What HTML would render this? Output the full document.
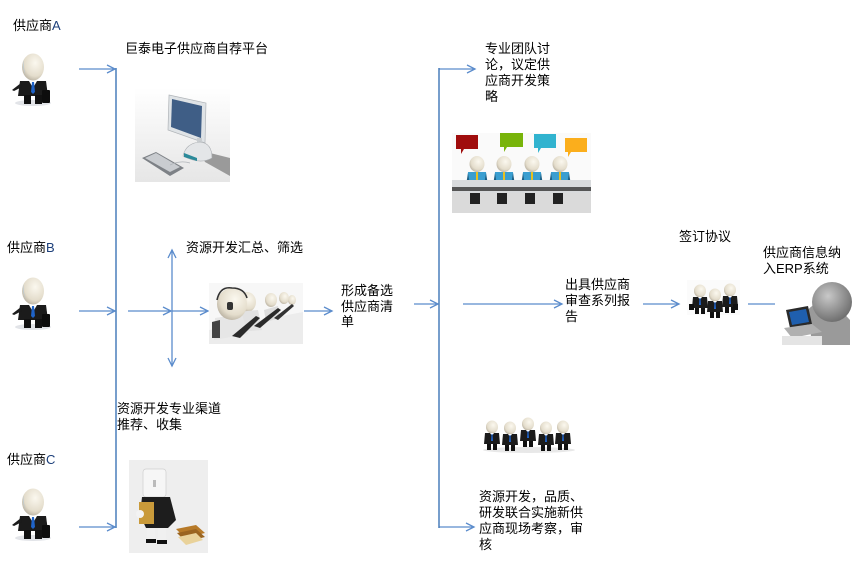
<!DOCTYPE html>
<html><head><meta charset="utf-8">
<style>
html,body{margin:0;padding:0;background:#fff;}
#w{position:relative;width:852px;height:588px;overflow:hidden;background:#fff;}
svg{position:absolute;left:0;top:0;}
.t{position:absolute;font-family:"Liberation Sans","Noto Sans CJK SC","WenQuanYi Zen Hei",sans-serif;font-size:13px;line-height:16px;color:#000;white-space:nowrap;}
.l{color:#1c3f7a;}
</style></head><body><div id="w">
<svg width="852" height="588" viewBox="0 0 852 588" xmlns="http://www.w3.org/2000/svg">
<defs>
<marker id="ah" markerUnits="userSpaceOnUse" markerWidth="12" markerHeight="12" refX="9" refY="5" orient="auto">
<path d="M1,1 L9,5 L1,9" fill="none" stroke="#5b8ccc" stroke-width="1.3"/>
</marker>
<radialGradient id="hd" cx="0.6" cy="0.35" r="0.7">
<stop offset="0" stop-color="#fbf8ef"/><stop offset="0.7" stop-color="#e4ddcc"/><stop offset="1" stop-color="#b8b0a0"/>
</radialGradient>
<radialGradient id="gh" cx="0.4" cy="0.35" r="0.7">
<stop offset="0" stop-color="#c8c8c8"/><stop offset="1" stop-color="#6a6a6a"/>
</radialGradient>
<linearGradient id="bgg" x1="0" y1="0" x2="0" y2="1">
<stop offset="0" stop-color="#ffffff"/><stop offset="1" stop-color="#e6e6e6"/>
</linearGradient>
<g id="sup">
<rect x="0" y="0" width="41" height="57" fill="#fff"/>
<ellipse cx="22" cy="53" rx="18" ry="3" fill="#e2e4e8"/>
<ellipse cx="22" cy="17" rx="11" ry="13.5" fill="url(#hd)"/>
<path d="M13,10 Q11,20 16,28 Q12,22 13,10Z" fill="#9cc6ee" opacity="0.8"/>
<path d="M9,31 L35,31 L37,46 L7,46Z" fill="#1b1b1b"/>
<path d="M18,31 L26,31 L22,38Z" fill="#fff"/>
<path d="M21,32 L23,32 L24,42 L22,44 L20,42Z" fill="#1f63c8"/>
<path d="M10,33 L1,40 L3,41 L11,37Z" fill="#1b1b1b"/>
<rect x="13" y="45" width="7" height="9" fill="#111"/>
<rect x="24" y="45" width="7" height="9" fill="#111"/>
<rect x="31" y="40" width="8" height="13" rx="1" fill="#0d0d0d"/>
</g>
<g id="biz">
<ellipse cx="8" cy="7" rx="6" ry="6.5" fill="url(#hd)"/>
<path d="M1,13 L15,13 L16,24 L0,24Z" fill="#1b1b1b"/>
<path d="M6,13 L10,13 L8,16Z" fill="#fff"/>
<path d="M7.5,14 L8.5,14 L9,21 L7,21Z" fill="#1f63c8"/>
<rect x="3" y="24" width="4" height="6" fill="#111"/>
<rect x="9" y="24" width="4" height="6" fill="#111"/>
</g>
<g id="mt">
<ellipse cx="8" cy="7" rx="7.5" ry="8" fill="url(#hd)"/>
<path d="M-1,15 L17,15 L18,28 L-2,28Z" fill="#3a9ed0"/>
<path d="M7,15 L9,15 L9,28 L7,28Z" fill="#e8c020"/>
<path d="M-1,16 L-3,28 L1,28Z" fill="#1d5f84"/>
<path d="M17,16 L19,28 L15,28Z" fill="#1d5f84"/>
</g>
</defs>

<!-- connectors -->
<g stroke="#5b8ccc" stroke-width="1.3" fill="none">
<line x1="79" y1="69" x2="115" y2="69" marker-end="url(#ah)"/>
<line x1="79" y1="311" x2="115" y2="311" marker-end="url(#ah)"/>
<line x1="79" y1="527" x2="115" y2="527" marker-end="url(#ah)"/>
<line x1="128" y1="311" x2="171" y2="311" marker-end="url(#ah)"/>
<line x1="172" y1="311" x2="208" y2="311" marker-end="url(#ah)"/>
<line x1="172" y1="311" x2="172" y2="250" marker-end="url(#ah)"/>
<line x1="172" y1="311" x2="172" y2="366" marker-end="url(#ah)"/>
<line x1="304" y1="311" x2="332" y2="311" marker-end="url(#ah)"/>
<line x1="414" y1="304" x2="438" y2="304" marker-end="url(#ah)"/>
<line x1="439" y1="69" x2="475" y2="69" marker-end="url(#ah)"/>
<line x1="439" y1="527" x2="474" y2="527" marker-end="url(#ah)"/>
<line x1="463" y1="304" x2="562" y2="304" marker-end="url(#ah)"/>
<line x1="643" y1="304" x2="679" y2="304" marker-end="url(#ah)"/>
<line x1="748" y1="304" x2="775" y2="304"/>
</g>
<g stroke="#4a7ebb" stroke-width="1.5">
<line x1="116" y1="68" x2="116" y2="528"/>
<line x1="439" y1="68" x2="439" y2="528"/>
</g>

<!-- suppliers -->
<use href="#sup" x="11" y="50"/>
<use href="#sup" x="11" y="274"/>
<use href="#sup" x="11" y="485"/>

<!-- computer -->
<rect x="135" y="88" width="95" height="94" fill="url(#bgg)"/>
<path d="M198,150 L230,158 L230,176 L205,162Z" fill="#9a9a9a"/>
<path d="M169,95 L206,103 L205,143 L168,130Z" fill="#dfe3e6" stroke="#b0b4b8" stroke-width="0.7"/>
<path d="M172,99 L202,106 L201,138 L171,127Z" fill="#3f5e86"/>
<rect x="197" y="138" width="5" height="10" fill="#c9cdd0"/>
<path d="M183,156 Q186,143 200,142 Q212,143 212,158 Q200,165 183,156Z" fill="#e4e6e8" stroke="#a8acb0" stroke-width="0.6"/>
<path d="M184,153 L197,158 L197,161 L184,157Z" fill="#2b8a9a"/>
<path d="M142,158 L156,152 L184,168 L170,176Z" fill="#7d8186"/>
<path d="M145,158 L156,153 L180,167 L170,172Z" fill="#c9ccd0"/>
<path d="M170,165 Q180,160 190,163" stroke="#b0b4b8" fill="none" stroke-width="0.8"/>

<!-- operators -->
<rect x="209" y="283" width="94" height="61" fill="#f7f7f7"/>
<path d="M209,330 L303,312 L303,344 L209,344Z" fill="#ececec"/>
<ellipse cx="292" cy="300" rx="4" ry="5" fill="url(#hd)"/>
<ellipse cx="284" cy="298" rx="5" ry="6" fill="url(#hd)"/>
<ellipse cx="271" cy="300" rx="6" ry="7" fill="url(#hd)"/>
<path d="M264,310 L278,306 L280,318 L266,322Z" fill="#ddd"/>
<ellipse cx="247" cy="302" rx="9" ry="10" fill="url(#hd)"/>
<path d="M237,312 L258,310 L262,330 L240,332Z" fill="#e2e2e2"/>
<path d="M215,318 L242,314 L248,334 L214,340Z" fill="#e6e6e6"/>
<ellipse cx="232" cy="304" rx="15" ry="16" fill="url(#hd)"/>
<path d="M217,300 Q220,286 232,288 Q244,288 247,298" stroke="#333" stroke-width="1.6" fill="none"/>
<rect x="227" y="302" width="6" height="8" rx="2" fill="#333"/>
<path d="M232,336 L256,316 L260,318 L240,338Z" fill="#2a2a2a"/>
<path d="M254,326 L278,308 L281,310 L260,328Z" fill="#2a2a2a"/>
<path d="M274,318 L292,304 L294,306 L278,320Z" fill="#333"/>
<path d="M212,322 L220,320 L220,338 L212,338Z" fill="#444"/>

<!-- book character -->
<rect x="129" y="460" width="79" height="93" fill="#eeeeee"/>
<rect x="143" y="469" width="23" height="28" rx="3" fill="#f6f6f6" stroke="#cfcfcf" stroke-width="0.7"/>
<rect x="153" y="480" width="3" height="7" fill="#bbb"/>
<path d="M142,497 L170,497 L176,520 L168,528 L146,528 L140,515Z" fill="#1d1d1d"/>
<rect x="139" y="502" width="15" height="22" fill="#c99a3a"/>
<ellipse cx="140" cy="514" rx="4" ry="4" fill="#f3f3f3"/>
<rect x="147" y="528" width="8" height="12" fill="#f0f0f0"/>
<rect x="158" y="528" width="8" height="12" fill="#f0f0f0"/>
<rect x="146" y="539" width="10" height="4" fill="#111"/>
<rect x="157" y="540" width="10" height="4" fill="#111"/>
<path d="M176,529 L196,525 L205,533 L185,538Z" fill="#b77a28"/>
<path d="M177,533 L196,529 L205,537 L186,542Z" fill="#9a6420"/>
<path d="M178,537 L196,533 L203,540 L186,545Z" fill="#e9d29a"/>

<!-- meeting -->
<rect x="452" y="133" width="139" height="80" fill="#fafafa"/>
<path d="M456,135 h22 v14 h-14 l-3,5 v-5 h-5z" fill="#a00d0d"/>
<path d="M500,133 h23 v14 h-16 l-3,5 v-5 h-4z" fill="#78b40a"/>
<path d="M534,134 h22 v14 h-15 l-3,5 v-5 h-4z" fill="#31b3cf"/>
<path d="M565,138 h22 v14 h-16 l-3,5 v-5 h-3z" fill="#fbae1c"/>
<use href="#mt" x="469" y="157"/>
<use href="#mt" x="496" y="157"/>
<use href="#mt" x="524" y="157"/>
<use href="#mt" x="552" y="157"/>
<path d="M452,180 L591,180 L591,193 L452,193Z" fill="#d8dadc"/>
<rect x="452" y="187" width="139" height="4" fill="#555"/>
<rect x="452" y="193" width="139" height="20" fill="#dadada"/>
<g fill="#222">
<rect x="470" y="193" width="10" height="11"/><rect x="497" y="193" width="10" height="11"/>
<rect x="525" y="193" width="10" height="11"/><rect x="553" y="193" width="10" height="11"/>
</g>

<!-- handshake -->
<rect x="687" y="280" width="53" height="35" fill="#fbfbfb"/>
<use href="#biz" x="692" y="284"/>
<use href="#biz" x="707" y="288"/>
<use href="#biz" x="722" y="283"/>
<rect x="689" y="304" width="5" height="6" fill="#111"/>
<rect x="733" y="304" width="5" height="6" fill="#111"/>

<!-- computer person -->
<rect x="780" y="285" width="70" height="60" fill="#fff"/>
<path d="M808,310 Q815,300 835,304 L850,320 L850,345 L812,345Z" fill="#9a9a9a"/>
<circle cx="832" cy="302" r="20" fill="url(#gh)"/>
<path d="M786,310 L808,306 L812,324 L790,328Z" fill="#2a2a2a"/>
<path d="M789,312 L806,309 L809,322 L792,325Z" fill="#1f5fae"/>
<path d="M784,328 L812,324 L822,332 L792,338Z" fill="#b0b0b0"/>
<rect x="782" y="336" width="40" height="9" fill="#e4e4e4"/>

<!-- business group -->
<ellipse cx="529" cy="450" rx="46" ry="3" fill="#e8e8e8"/>
<use href="#biz" x="484" y="420"/>
<use href="#biz" x="502" y="421"/>
<use href="#biz" x="520" y="417"/>
<use href="#biz" x="538" y="421"/>
<use href="#biz" x="555" y="420"/>
</svg>

<div class="t" style="left:13px;top:18px;">供应商<span class="l">A</span></div>
<div class="t" style="left:7px;top:240px;">供应商<span class="l">B</span></div>
<div class="t" style="left:7px;top:452px;">供应商<span class="l">C</span></div>
<div class="t" style="left:125px;top:41px;">巨泰电子供应商自荐平台</div>
<div class="t" style="left:186px;top:240px;">资源开发汇总、筛选</div>
<div class="t" style="left:341px;top:283px;line-height:15.5px;">形成备选<br>供应商清<br>单</div>
<div class="t" style="left:117px;top:401px;">资源开发专业渠道<br>推荐、收集</div>
<div class="t" style="left:485px;top:41px;">专业团队讨<br>论，议定供<br>应商开发策<br>略</div>
<div class="t" style="left:565px;top:277px;">出具供应商<br>审查系列报<br>告</div>
<div class="t" style="left:679px;top:229px;">签订协议</div>
<div class="t" style="left:763px;top:245px;">供应商信息纳<br>入ERP系统</div>
<div class="t" style="left:479px;top:489px;">资源开发，品质、<br>研发联合实施新供<br>应商现场考察，审<br>核</div>
</div></body></html>
